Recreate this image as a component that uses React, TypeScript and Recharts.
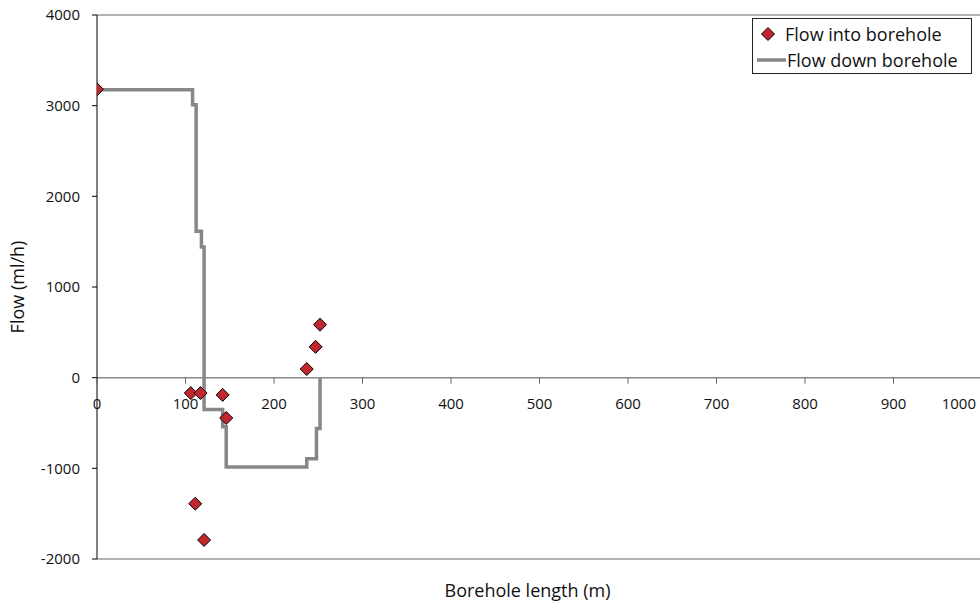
import React from 'react';
import {
  ComposedChart,
  Line,
  Scatter,
  XAxis,
  YAxis,
  ReferenceLine,
} from 'recharts';

// inflow measured at each fracture along the borehole
const inflowDepth = [0, 106, 111, 117, 121, 142, 146, 237, 247, 252];
const inflowRate = [3180, -170, -1390, -170, -1790, -190, -445, 95, 340, 585];

// cumulative flow down the hole (stepped profile)
const downDepth = [0, 108, 108, 112, 112, 118, 118, 121, 121, 142, 142, 146, 146, 237, 237, 248, 248, 252, 252];
const downRate = [3175, 3175, 3010, 3010, 1615, 1615, 1440, 1440, -350, -350, -540, -540, -985, -985, -895, -895, -560, -560, 0];

const xTicks = [0, 100, 200, 300, 400, 500, 600, 700, 800, 900, 1000];
const yTicks = [-2000, -1000, 0, 1000, 2000, 3000, 4000];

const inflowData = inflowDepth.map((x, i) => ({ x, y: inflowRate[i] }));
const downData = downDepth.map((x, i) => ({ x, y: downRate[i] }));

const FONT = '"Open Sans", sans-serif';
const TICK_SIZE = 15;
const TITLE_SIZE = 18;
const CHART_W = 1000;
const CHART_H = 606;
const TOP = 15;
const X_AXIS_H = 47;
const PLOT_H = CHART_H - TOP - X_AXIS_H;
const Y_MIN = -2000;
const Y_MAX = 4000;
// x axis crosses at flow = 0
const ZERO_Y = TOP + (PLOT_H * Y_MAX) / (Y_MAX - Y_MIN);

const XTick = (props: any) => {
  const { x, payload } = props;
  const lastOnPage = x > 960;
  return (
    <g>
      <line x1={x} x2={x} y1={ZERO_Y} y2={ZERO_Y + 6} stroke="#666" strokeWidth={1} />
      <text
        x={lastOnPage ? 976 : x}
        y={ZERO_Y + 31}
        textAnchor={lastOnPage ? 'end' : 'middle'}
        fontFamily={FONT}
        fontSize={TICK_SIZE}
        fill="#111"
      >
        {payload.value}
      </text>
    </g>
  );
};

const Diamond = (props: any) => {
  const { cx, cy } = props;
  const r = 6.5;
  return (
    <polygon
      points={`${cx},${cy - r} ${cx + r},${cy} ${cx},${cy + r} ${cx - r},${cy}`}
      fill="#C1272D"
      stroke="#000"
      strokeWidth={1}
    />
  );
};

const LegendBox = () => (
  <div
    style={{
      position: 'absolute',
      top: 18,
      left: 752,
      width: 218,
      height: 54,
      border: '1px solid #222',
      background: '#fff',
      fontFamily: FONT,
      fontSize: TITLE_SIZE,
      color: '#111',
      lineHeight: 1,
    }}
  >
    <div style={{ display: 'flex', alignItems: 'center', height: 30 }}>
      <svg width={30} height={20} style={{ flex: 'none' }}>
        <polygon points="15,3.5 21.5,10 15,16.5 8.5,10" fill="#C1272D" stroke="#000" strokeWidth={1} />
      </svg>
      <span style={{ marginLeft: 2 }}>Flow into borehole</span>
    </div>
    <div style={{ display: 'flex', alignItems: 'center', height: 22 }}>
      <svg width={34} height={20} style={{ flex: 'none' }}>
        <line x1={4} x2={33} y1={10} y2={10} stroke="#878787" strokeWidth={3.5} />
      </svg>
      <span>Flow down borehole</span>
    </div>
  </div>
);

export default function App() {
  return (
    <div
      style={{
        position: 'fixed',
        top: 0,
        left: 0,
        width: 980,
        height: 606,
        overflow: 'hidden',
        background: '#fff',
      }}
    >
      <ComposedChart
        width={CHART_W}
        height={CHART_H}
        margin={{ top: TOP, right: 18, bottom: 0, left: 0 }}
      >
        <XAxis
          dataKey="x"
          type="number"
          domain={[0, 1000]}
          ticks={xTicks}
          height={X_AXIS_H}
          axisLine={false}
          tickLine={false}
          tick={<XTick />}
          allowDataOverflow
          label={{
            value: 'Borehole length (m)',
            position: 'insideBottom',
            offset: 9,
            dx: -12,
            style: { fontFamily: FONT, fontSize: TITLE_SIZE, fill: '#111' },
          }}
        />
        <YAxis
          dataKey="y"
          type="number"
          domain={[Y_MIN, Y_MAX]}
          ticks={yTicks}
          width={97}
          allowDataOverflow
          axisLine={{ stroke: '#000', strokeWidth: 1 }}
          tickLine={{ stroke: '#000' }}
          tickSize={5}
          tickMargin={12}
          tick={{ fontFamily: FONT, fontSize: TICK_SIZE, fill: '#111' }}
          label={{
            value: 'Flow (ml/h)',
            angle: -90,
            position: 'insideLeft',
            offset: 18,
            style: { fontFamily: FONT, fontSize: TITLE_SIZE, fill: '#111', textAnchor: 'middle' },
          }}
        />
        <ReferenceLine y={Y_MAX} stroke="#999" strokeWidth={1.5} />
        <ReferenceLine y={Y_MIN} stroke="#999" strokeWidth={1.5} />
        <ReferenceLine y={0} stroke="#888" strokeWidth={1.5} />
        <Line
          data={downData}
          dataKey="y"
          name="Flow down borehole"
          type="linear"
          stroke="#878787"
          strokeWidth={3.5}
          dot={false}
          activeDot={false}
          isAnimationActive={false}
        />
        <Scatter
          data={inflowData}
          dataKey="y"
          name="Flow into borehole"
          shape={<Diamond />}
          isAnimationActive={false}
        />
      </ComposedChart>
      <LegendBox />
    </div>
  );
}
